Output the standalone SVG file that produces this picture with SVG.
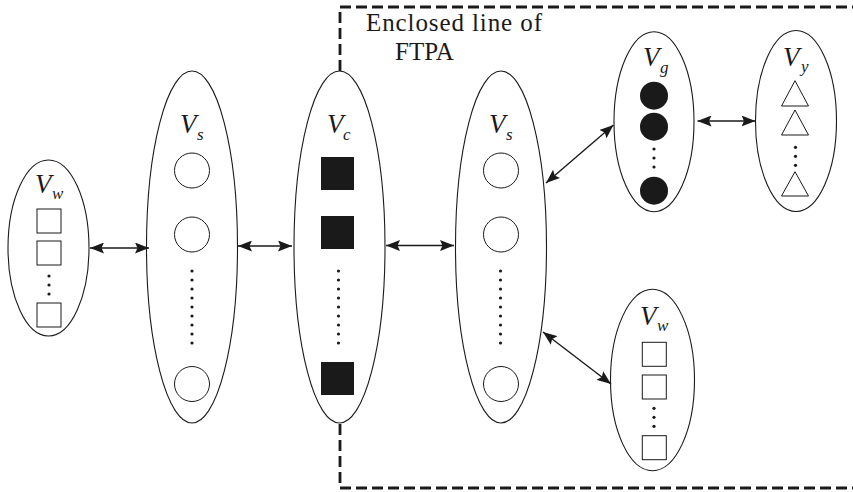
<svg xmlns="http://www.w3.org/2000/svg" width="853" height="492" viewBox="0 0 853 492">
  <style>
    .set { fill: none; stroke: #1a1a1a; stroke-width: 1.1; }
    .open { fill: #fff; stroke: #1a1a1a; stroke-width: 1; }
    .solid { fill: #1a1a1a; stroke: none; }
    .dot { fill: #1a1a1a; }
    .lab { font-family: "Liberation Serif", "Times New Roman", serif; font-style: italic; font-size: 27px; fill: #1a1a1a; }
    .sub { font-family: "Liberation Serif", "Times New Roman", serif; font-style: italic; font-size: 17px; fill: #1a1a1a; }
    .note { font-family: "Liberation Serif", "Times New Roman", serif; font-size: 25px; fill: #1a1a1a; }
    .link { stroke: #1a1a1a; stroke-width: 1.4; fill: none; marker-start: url(#head); marker-end: url(#head); }
    .fence { fill: none; stroke: #1a1a1a; stroke-width: 2.8; stroke-dasharray: 11 5; }
  </style>
  <defs>
    <marker id="head" viewBox="0 0 14 11" refX="14" refY="5.5" markerWidth="14" markerHeight="11" markerUnits="userSpaceOnUse" orient="auto-start-reverse">
      <path d="M0,0 L14,5.5 L0,11 L2.5,5.5 Z" fill="#1a1a1a"/>
    </marker>
    <g id="dots9" class="dot">
      <circle cx="0" cy="0" r="1.6"/><circle cx="0" cy="9" r="1.6"/><circle cx="0" cy="18" r="1.6"/>
      <circle cx="0" cy="27" r="1.6"/><circle cx="0" cy="36" r="1.6"/><circle cx="0" cy="45" r="1.6"/>
      <circle cx="0" cy="54" r="1.6"/><circle cx="0" cy="63" r="1.6"/><circle cx="0" cy="72" r="1.6"/>
    </g>
    <g id="dots3" class="dot">
      <circle cx="0" cy="0" r="1.6"/><circle cx="0" cy="9" r="1.6"/><circle cx="0" cy="18" r="1.6"/>
    </g>
  </defs>

  <rect width="853" height="492" fill="#fff"/>

  <!-- FTPA boundary -->
  <g id="fence">
    <path class="fence" d="M340,71 L340,7 L853,7"/>
    <path class="fence" d="M340,424 L340,488 L853,488"/>
    <text class="note" x="366" y="31" textLength="176" lengthAdjust="spacing">Enclosed line of</text>
    <text class="note" x="395" y="60">FTPA</text>
  </g>

  <!-- left V_w -->
  <g id="vw-left">
    <ellipse class="set" cx="48.5" cy="248" rx="40.5" ry="88"/>
    <text class="lab" x="35" y="193">V</text>
    <text class="sub" x="52" y="199">w</text>
    <rect class="open" x="37" y="209" width="24" height="24"/>
    <rect class="open" x="37" y="241" width="24" height="24"/>
    <use href="#dots3" x="49" y="276"/>
    <rect class="open" x="37" y="303" width="24" height="24"/>
  </g>

  <!-- first V_s -->
  <g id="vs-left">
    <ellipse class="set" cx="192" cy="247" rx="45.5" ry="176"/>
    <text class="lab" x="180" y="133">V</text>
    <text class="sub" x="197" y="140">s</text>
    <circle class="open" cx="192" cy="170.5" r="17.5"/>
    <circle class="open" cx="192" cy="234.5" r="17.5"/>
    <use href="#dots9" x="192" y="271"/>
    <circle class="open" cx="192" cy="384" r="17.5"/>
  </g>

  <!-- V_c -->
  <g id="vc">
    <ellipse class="set" cx="339.5" cy="247" rx="45.5" ry="176"/>
    <text class="lab" x="327" y="133">V</text>
    <text class="sub" x="343" y="140">c</text>
    <rect class="solid" x="321" y="157" width="33" height="33"/>
    <rect class="solid" x="321" y="216" width="33" height="33"/>
    <use href="#dots9" x="338.5" y="271"/>
    <rect class="solid" x="321" y="362" width="33" height="33"/>
  </g>

  <!-- second V_s -->
  <g id="vs-right">
    <ellipse class="set" cx="501" cy="247" rx="45.5" ry="176"/>
    <text class="lab" x="489" y="133">V</text>
    <text class="sub" x="506" y="140">s</text>
    <circle class="open" cx="501" cy="170.5" r="17.5"/>
    <circle class="open" cx="501" cy="234.5" r="17.5"/>
    <use href="#dots9" x="500.5" y="271"/>
    <circle class="open" cx="501" cy="384" r="17.5"/>
  </g>

  <!-- V_g -->
  <g id="vg">
    <ellipse class="set" cx="654" cy="121.7" rx="40" ry="90"/>
    <text class="lab" x="643" y="66">V</text>
    <text class="sub" x="660" y="73">g</text>
    <circle class="solid" cx="654" cy="95.7" r="14"/>
    <circle class="solid" cx="654" cy="126.7" r="14"/>
    <use href="#dots3" x="654" y="149"/>
    <circle class="solid" cx="654" cy="190.7" r="14"/>
  </g>

  <!-- V_y -->
  <g id="vy">
    <ellipse class="set" cx="796" cy="121" rx="40.5" ry="90.5"/>
    <text class="lab" x="783" y="66">V</text>
    <text class="sub" x="801" y="72">y</text>
    <path class="open" d="M795,80.7 L808.5,106 L781.5,106 Z"/>
    <path class="open" d="M795,110 L808.5,135 L781.5,135 Z"/>
    <use href="#dots3" x="795.5" y="147.3"/>
    <path class="open" d="M795,171.7 L808.5,196 L781.5,196 Z"/>
  </g>

  <!-- lower V_w -->
  <g id="vw-right">
    <ellipse class="set" cx="652.5" cy="380" rx="42" ry="90.7"/>
    <text class="lab" x="640" y="325">V</text>
    <text class="sub" x="657" y="331">w</text>
    <rect class="open" x="642.3" y="342.3" width="24" height="24"/>
    <rect class="open" x="642.3" y="375" width="24" height="24"/>
    <use href="#dots3" x="654" y="408.3"/>
    <rect class="open" x="642.3" y="435.7" width="24" height="24"/>
  </g>

  <!-- two-way links between sets -->
  <g id="links">
    <line class="link" x1="90" y1="248" x2="149" y2="248"/>
    <line class="link" x1="238" y1="246" x2="292" y2="246"/>
    <line class="link" x1="386" y1="245.5" x2="454" y2="245.5"/>
    <line class="link" x1="546" y1="183" x2="613.5" y2="125"/>
    <line class="link" x1="697.5" y1="121" x2="755.5" y2="121"/>
    <line class="link" x1="543" y1="332" x2="611" y2="384"/>
  </g>
</svg>
